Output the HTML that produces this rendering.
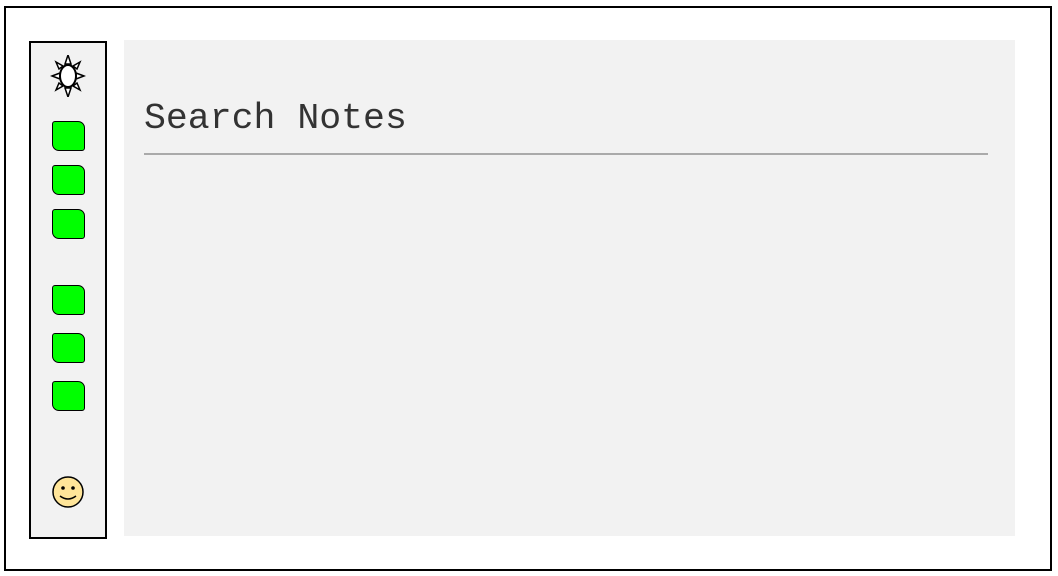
<!DOCTYPE html>
<html><head><style>
body{margin:0;width:1058px;height:576px;background:#fff;position:relative;overflow:hidden}
div{position:absolute;box-sizing:border-box}
.g{left:52px;width:33px;height:30px;background:#00ff00;border:1.5px solid #000;border-radius:3px 7px 3px 7px}
</style></head><body>
<div style="left:4px;top:6px;width:1048px;height:565px;border:2px solid #000"></div>
<div style="left:29px;top:41px;width:78px;height:498px;border:2px solid #000;background:#f2f2f2"></div>
<div style="left:124px;top:40px;width:891px;height:496px;background:#f2f2f2"></div>
<div style="left:144px;top:97px;font-family:'Liberation Mono',monospace;font-size:36.5px;color:#333;line-height:44px">Search Notes</div>
<div style="left:144px;top:153px;width:844px;height:2px;background:#aaa"></div>
<svg style="position:absolute;left:50px;top:55px" width="36" height="42" viewBox="0 0 36 42">
<g stroke="#000" stroke-width="1.5" fill="#fff">
<polygon points="18,0 21,9 15,9"/><polygon points="18,42 21,33 15,33"/>
<polygon points="2,21 10,18 10,24"/><polygon points="34,21 26,18 26,24"/>
<polygon points="6,7 13,11 9,14"/><polygon points="30,7 23,11 27,14"/>
<polygon points="6,35 13,31 9,28"/><polygon points="30,35 23,31 27,28"/>
<ellipse cx="18" cy="21" rx="8" ry="11" stroke-width="2"/>
</g></svg>
<div class="g" style="top:121px"></div>
<div class="g" style="top:165px"></div>
<div class="g" style="top:209px"></div>
<div class="g" style="top:285px"></div>
<div class="g" style="top:333px"></div>
<div class="g" style="top:381px"></div>
<svg style="position:absolute;left:51px;top:476px" width="34" height="34" viewBox="0 0 34 34">
<circle cx="17" cy="16" r="15" fill="#ffe599" stroke="#000" stroke-width="1.5"/>
<circle cx="12" cy="12" r="1.8"/><circle cx="22" cy="12" r="1.8"/>
<path d="M9 20 Q17 26 25 20" fill="none" stroke="#000" stroke-width="1.5"/>
</svg>
</body></html>
